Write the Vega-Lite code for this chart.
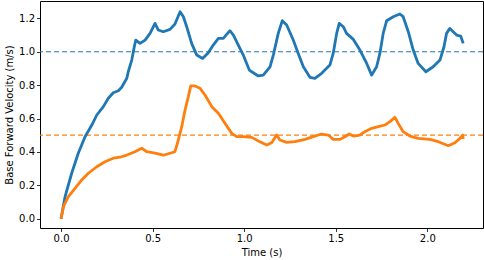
{
  "$schema": "https://vega.github.io/schema/vega-lite/v6.json",
  "width": 443,
  "height": 227,
  "autosize": {"type": "none"},
  "padding": {"left": 40, "top": 1, "right": 1, "bottom": 32},
  "config": {
    "font": "DejaVu Sans",
    "view": {"stroke": "#000000", "strokeWidth": 1},
    "axis": {
      "grid": false,
      "domain": false,
      "ticks": true,
      "tickColor": "#000000",
      "tickSize": 3.5,
      "tickWidth": 0.8,
      "labelColor": "#000000",
      "labelFont": "DejaVu Sans",
      "labelFontSize": 10,
      "labelPadding": 2,
      "labelOverlap": false,
      "titleColor": "#000000",
      "titleFont": "DejaVu Sans",
      "titleFontSize": 10,
      "titleFontWeight": "normal"
    }
  },
  "layer": [
    {
      "data": {"values": [
        {"ref": 1.0, "series": "run 1"},
        {"ref": 0.5, "series": "run 2"}
      ]},
      "mark": {"type": "rule", "strokeWidth": 1.2, "strokeDash": [5, 3]},
      "encoding": {
        "y": {"field": "ref", "type": "quantitative", "title": "Base Forward Velocity (m/s)",
              "scale": {"domain": [-0.056, 1.304], "nice": false, "zero": false},
              "axis": {"values": [0, 0.2, 0.4, 0.6, 0.8, 1.0, 1.2], "format": ".1f", "titlePadding": 4, "labelOverlap": false, "labelBound": false}},
        "color": {"field": "series", "type": "nominal", "scale": {"domain": ["run 1", "run 2"], "range": ["#1f77b4", "#ff7f0e"]}, "legend": null}
      }
    },
    {
      "data": {"values": [
        {"t": 0.0, "v": 0.0, "series": "run 1"},
        {"t": 0.022, "v": 0.132, "series": "run 1"},
        {"t": 0.058, "v": 0.272, "series": "run 1"},
        {"t": 0.094, "v": 0.392, "series": "run 1"},
        {"t": 0.131, "v": 0.491, "series": "run 1"},
        {"t": 0.168, "v": 0.561, "series": "run 1"},
        {"t": 0.195, "v": 0.621, "series": "run 1"},
        {"t": 0.231, "v": 0.671, "series": "run 1"},
        {"t": 0.258, "v": 0.721, "series": "run 1"},
        {"t": 0.285, "v": 0.754, "series": "run 1"},
        {"t": 0.313, "v": 0.766, "series": "run 1"},
        {"t": 0.331, "v": 0.787, "series": "run 1"},
        {"t": 0.359, "v": 0.841, "series": "run 1"},
        {"t": 0.367, "v": 0.88, "series": "run 1"},
        {"t": 0.386, "v": 0.95, "series": "run 1"},
        {"t": 0.398, "v": 1.02, "series": "run 1"},
        {"t": 0.408, "v": 1.07, "series": "run 1"},
        {"t": 0.431, "v": 1.05, "series": "run 1"},
        {"t": 0.459, "v": 1.07, "series": "run 1"},
        {"t": 0.486, "v": 1.11, "series": "run 1"},
        {"t": 0.513, "v": 1.17, "series": "run 1"},
        {"t": 0.531, "v": 1.13, "series": "run 1"},
        {"t": 0.558, "v": 1.12, "series": "run 1"},
        {"t": 0.595, "v": 1.134, "series": "run 1"},
        {"t": 0.622, "v": 1.166, "series": "run 1"},
        {"t": 0.65, "v": 1.24, "series": "run 1"},
        {"t": 0.668, "v": 1.21, "series": "run 1"},
        {"t": 0.686, "v": 1.15, "series": "run 1"},
        {"t": 0.713, "v": 1.05, "series": "run 1"},
        {"t": 0.741, "v": 0.98, "series": "run 1"},
        {"t": 0.773, "v": 0.96, "series": "run 1"},
        {"t": 0.804, "v": 0.994, "series": "run 1"},
        {"t": 0.831, "v": 1.04, "series": "run 1"},
        {"t": 0.859, "v": 1.08, "series": "run 1"},
        {"t": 0.886, "v": 1.08, "series": "run 1"},
        {"t": 0.922, "v": 1.126, "series": "run 1"},
        {"t": 0.941, "v": 1.1, "series": "run 1"},
        {"t": 0.968, "v": 1.04, "series": "run 1"},
        {"t": 0.995, "v": 0.98, "series": "run 1"},
        {"t": 1.028, "v": 0.89, "series": "run 1"},
        {"t": 1.041, "v": 0.88, "series": "run 1"},
        {"t": 1.077, "v": 0.855, "series": "run 1"},
        {"t": 1.104, "v": 0.86, "series": "run 1"},
        {"t": 1.141, "v": 0.91, "series": "run 1"},
        {"t": 1.159, "v": 0.98, "series": "run 1"},
        {"t": 1.186, "v": 1.11, "series": "run 1"},
        {"t": 1.208, "v": 1.186, "series": "run 1"},
        {"t": 1.232, "v": 1.16, "series": "run 1"},
        {"t": 1.268, "v": 1.07, "series": "run 1"},
        {"t": 1.295, "v": 0.99, "series": "run 1"},
        {"t": 1.323, "v": 0.91, "series": "run 1"},
        {"t": 1.359, "v": 0.847, "series": "run 1"},
        {"t": 1.386, "v": 0.841, "series": "run 1"},
        {"t": 1.423, "v": 0.871, "series": "run 1"},
        {"t": 1.468, "v": 0.92, "series": "run 1"},
        {"t": 1.486, "v": 0.99, "series": "run 1"},
        {"t": 1.505, "v": 1.11, "series": "run 1"},
        {"t": 1.519, "v": 1.17, "series": "run 1"},
        {"t": 1.541, "v": 1.15, "series": "run 1"},
        {"t": 1.559, "v": 1.11, "series": "run 1"},
        {"t": 1.596, "v": 1.074, "series": "run 1"},
        {"t": 1.632, "v": 1.01, "series": "run 1"},
        {"t": 1.669, "v": 0.93, "series": "run 1"},
        {"t": 1.696, "v": 0.86, "series": "run 1"},
        {"t": 1.723, "v": 0.91, "series": "run 1"},
        {"t": 1.741, "v": 0.99, "series": "run 1"},
        {"t": 1.759, "v": 1.11, "series": "run 1"},
        {"t": 1.778, "v": 1.186, "series": "run 1"},
        {"t": 1.814, "v": 1.21, "series": "run 1"},
        {"t": 1.85, "v": 1.226, "series": "run 1"},
        {"t": 1.868, "v": 1.21, "series": "run 1"},
        {"t": 1.896, "v": 1.12, "series": "run 1"},
        {"t": 1.923, "v": 1.01, "series": "run 1"},
        {"t": 1.95, "v": 0.93, "series": "run 1"},
        {"t": 1.992, "v": 0.88, "series": "run 1"},
        {"t": 2.032, "v": 0.91, "series": "run 1"},
        {"t": 2.069, "v": 0.95, "series": "run 1"},
        {"t": 2.091, "v": 1.03, "series": "run 1"},
        {"t": 2.105, "v": 1.11, "series": "run 1"},
        {"t": 2.123, "v": 1.14, "series": "run 1"},
        {"t": 2.141, "v": 1.12, "series": "run 1"},
        {"t": 2.16, "v": 1.1, "series": "run 1"},
        {"t": 2.182, "v": 1.094, "series": "run 1"},
        {"t": 2.196, "v": 1.05, "series": "run 1"},
        {"t": 0.0, "v": 0.0, "series": "run 2"},
        {"t": 0.013, "v": 0.072, "series": "run 2"},
        {"t": 0.04, "v": 0.132, "series": "run 2"},
        {"t": 0.076, "v": 0.182, "series": "run 2"},
        {"t": 0.113, "v": 0.232, "series": "run 2"},
        {"t": 0.149, "v": 0.272, "series": "run 2"},
        {"t": 0.195, "v": 0.311, "series": "run 2"},
        {"t": 0.24, "v": 0.341, "series": "run 2"},
        {"t": 0.285, "v": 0.362, "series": "run 2"},
        {"t": 0.322, "v": 0.368, "series": "run 2"},
        {"t": 0.359, "v": 0.381, "series": "run 2"},
        {"t": 0.404, "v": 0.401, "series": "run 2"},
        {"t": 0.44, "v": 0.422, "series": "run 2"},
        {"t": 0.468, "v": 0.401, "series": "run 2"},
        {"t": 0.513, "v": 0.392, "series": "run 2"},
        {"t": 0.558, "v": 0.38, "series": "run 2"},
        {"t": 0.595, "v": 0.392, "series": "run 2"},
        {"t": 0.622, "v": 0.401, "series": "run 2"},
        {"t": 0.64, "v": 0.471, "series": "run 2"},
        {"t": 0.659, "v": 0.551, "series": "run 2"},
        {"t": 0.677, "v": 0.651, "series": "run 2"},
        {"t": 0.695, "v": 0.731, "series": "run 2"},
        {"t": 0.708, "v": 0.795, "series": "run 2"},
        {"t": 0.731, "v": 0.795, "series": "run 2"},
        {"t": 0.759, "v": 0.781, "series": "run 2"},
        {"t": 0.786, "v": 0.741, "series": "run 2"},
        {"t": 0.823, "v": 0.671, "series": "run 2"},
        {"t": 0.859, "v": 0.631, "series": "run 2"},
        {"t": 0.895, "v": 0.571, "series": "run 2"},
        {"t": 0.932, "v": 0.511, "series": "run 2"},
        {"t": 0.959, "v": 0.491, "series": "run 2"},
        {"t": 0.995, "v": 0.491, "series": "run 2"},
        {"t": 1.041, "v": 0.487, "series": "run 2"},
        {"t": 1.086, "v": 0.461, "series": "run 2"},
        {"t": 1.123, "v": 0.441, "series": "run 2"},
        {"t": 1.15, "v": 0.455, "series": "run 2"},
        {"t": 1.177, "v": 0.501, "series": "run 2"},
        {"t": 1.195, "v": 0.471, "series": "run 2"},
        {"t": 1.232, "v": 0.457, "series": "run 2"},
        {"t": 1.277, "v": 0.461, "series": "run 2"},
        {"t": 1.332, "v": 0.475, "series": "run 2"},
        {"t": 1.377, "v": 0.491, "series": "run 2"},
        {"t": 1.423, "v": 0.507, "series": "run 2"},
        {"t": 1.459, "v": 0.501, "series": "run 2"},
        {"t": 1.486, "v": 0.475, "series": "run 2"},
        {"t": 1.523, "v": 0.475, "series": "run 2"},
        {"t": 1.55, "v": 0.491, "series": "run 2"},
        {"t": 1.574, "v": 0.507, "series": "run 2"},
        {"t": 1.596, "v": 0.495, "series": "run 2"},
        {"t": 1.632, "v": 0.501, "series": "run 2"},
        {"t": 1.659, "v": 0.521, "series": "run 2"},
        {"t": 1.696, "v": 0.541, "series": "run 2"},
        {"t": 1.732, "v": 0.551, "series": "run 2"},
        {"t": 1.769, "v": 0.561, "series": "run 2"},
        {"t": 1.796, "v": 0.581, "series": "run 2"},
        {"t": 1.823, "v": 0.607, "series": "run 2"},
        {"t": 1.841, "v": 0.571, "series": "run 2"},
        {"t": 1.868, "v": 0.521, "series": "run 2"},
        {"t": 1.905, "v": 0.495, "series": "run 2"},
        {"t": 1.95, "v": 0.481, "series": "run 2"},
        {"t": 2.014, "v": 0.475, "series": "run 2"},
        {"t": 2.06, "v": 0.461, "series": "run 2"},
        {"t": 2.105, "v": 0.441, "series": "run 2"},
        {"t": 2.114, "v": 0.437, "series": "run 2"},
        {"t": 2.151, "v": 0.455, "series": "run 2"},
        {"t": 2.178, "v": 0.481, "series": "run 2"},
        {"t": 2.193, "v": 0.501, "series": "run 2"},
        {"t": 2.196, "v": 0.477, "series": "run 2"}
      ]},
      "mark": {"type": "line", "strokeWidth": 2.8, "strokeJoin": "round", "strokeCap": "butt"},
      "encoding": {
        "x": {"field": "t", "type": "quantitative", "title": "Time (s)",
              "scale": {"domain": [-0.115, 2.304], "nice": false, "zero": false},
              "axis": {"values": [0, 0.5, 1, 1.5, 2], "format": ".1f", "titlePadding": 4, "labelOverlap": false}},
        "y": {"field": "v", "type": "quantitative", "title": "Base Forward Velocity (m/s)",
              "scale": {"domain": [-0.056, 1.304], "nice": false, "zero": false},
              "axis": {"values": [0, 0.2, 0.4, 0.6, 0.8, 1.0, 1.2], "format": ".1f", "titlePadding": 4, "labelOverlap": false, "labelBound": false}},
        "color": {"field": "series", "type": "nominal", "scale": {"domain": ["run 1", "run 2"], "range": ["#1f77b4", "#ff7f0e"]}, "legend": null},
        "order": {"field": "t", "type": "quantitative"}
      }
    }
  ]
}
